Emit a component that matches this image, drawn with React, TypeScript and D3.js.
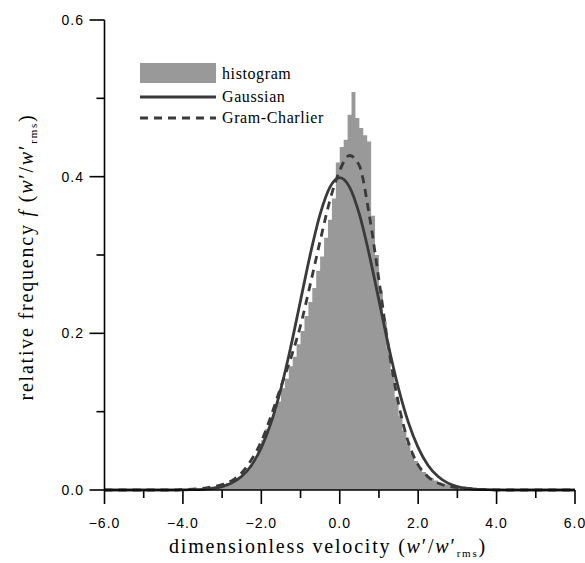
import React from "react";
import * as d3 from "d3";

// histogram: left bin edges (width 0.1) and relative frequency
const histEdges: number[] = d3.range(-4.5, 4.5001, 0.1).map((v) => Math.round(v * 10) / 10);
const histValues: number[] = [
  0.000, 0.001, 0.000, 0.001, 0.001, 0.001, 0.001, 0.002, 0.002, 0.002,
  0.003, 0.003, 0.004, 0.005, 0.006, 0.008, 0.009, 0.011, 0.014, 0.017,
  0.021, 0.026, 0.032, 0.040, 0.052, 0.064, 0.078, 0.092, 0.102, 0.113,
  0.130, 0.142, 0.158, 0.170, 0.186, 0.203, 0.222, 0.240, 0.258, 0.280,
  0.298, 0.322, 0.345, 0.372, 0.418, 0.438, 0.447, 0.479, 0.508, 0.475,
  0.462, 0.453, 0.445, 0.350, 0.300, 0.255, 0.215, 0.180, 0.150, 0.118,
  0.095, 0.076, 0.060, 0.047, 0.037, 0.029, 0.023, 0.018, 0.015, 0.012,
  0.010, 0.008, 0.007, 0.006, 0.005, 0.004, 0.004, 0.003, 0.003, 0.002,
  0.002, 0.001, 0.001, 0.001, 0.001, 0.000, 0.000, 0.000, 0.000, 0.000,
];

// curves sampled every 0.25 from -6 to 6
const curveX: number[] = d3.range(-6, 6.0001, 0.25);
const gaussianValues: number[] = [
  0, 0, 0, 0, 0, 0, 0, 0, 0.0001, 0.0004, 0.0009, 0.002, 0.0044, 0.0091, 0.0175, 0.0317,
  0.054, 0.0863, 0.1295, 0.1826, 0.242, 0.3011, 0.3521, 0.3867, 0.3989,
  0.3867, 0.3521, 0.3011, 0.242, 0.1826, 0.1295, 0.0863, 0.054,
  0.0317, 0.0175, 0.0091, 0.0044, 0.002, 0.0009, 0.0004, 0.0001, 0, 0, 0, 0, 0, 0, 0, 0,
];
const gramCharlierValues: number[] = [
  0, 0, 0, 0, 0, 0, 0, 0, 0.0005, 0.001, 0.002, 0.004, 0.007, 0.012, 0.022, 0.039,
  0.062, 0.095, 0.132, 0.168, 0.21, 0.263, 0.318, 0.37, 0.408,
  0.427, 0.414, 0.352, 0.268, 0.18, 0.11, 0.061, 0.032,
  0.017, 0.009, 0.005, 0.003, 0.002, 0.001, 0.0005, 0, 0, 0, 0, 0, 0, 0, 0, 0,
];

const xTicksMajor: number[] = [-6, -4, -2, 0, 2, 4, 6];
const xTicksMinor: number[] = [-5, -3, -1, 1, 3, 5];
const yTicksMajor: number[] = [0, 0.2, 0.4, 0.6];
const yTicksMinor: number[] = [0.1, 0.3, 0.5];

const legendLabels: string[] = ["histogram", "Gaussian", "Gram-Charlier"];

const W = 585;
const H = 563;
const x0 = 104.5;
const x1 = 575;
const y0 = 490;
const y1 = 20;

const HIST_FILL = "#999999";
const LINE = "#3a3a3a";
const LW = 2.8;
const DASH = "8,6";
const serif = "'Liberation Serif', 'Times New Roman', serif";
const sans = "'Liberation Sans', Arial, sans-serif";

export default function App() {
  const x = d3.scaleLinear().domain([-6, 6]).range([x0, x1]);
  const y = d3.scaleLinear().domain([0, 0.6]).range([y0, y1]);

  const histData = histEdges.map((e, i) => ({ e, v: histValues[i] ?? 0 }));
  const area = d3
    .area<{ e: number; v: number }>()
    .x((d) => x(d.e))
    .y0(y(0))
    .y1((d) => y(d.v))
    .curve(d3.curveStepAfter);

  const line = d3
    .line<number>()
    .x((_, i) => x(curveX[i]))
    .y((d) => y(d))
    .curve(d3.curveMonotoneX);

  const fmt = d3.format(".1f");
  const legX = 140;
  const legW = 76;

  return (
    <svg
      width={W}
      height={H}
      style={{ position: "absolute", left: 0, top: 0, background: "#fff" }}
    >
      <rect x={0} y={0} width={W} height={H} fill="#fff" />
      <path d={area(histData) ?? ""} fill={HIST_FILL} />
      <path d={line(gaussianValues) ?? ""} fill="none" stroke={LINE} strokeWidth={LW} />
      <path
        d={line(gramCharlierValues) ?? ""}
        fill="none"
        stroke={LINE}
        strokeWidth={LW}
        strokeDasharray={DASH}
      />

      {/* axes */}
      <line x1={x0} x2={x1} y1={y0} y2={y0} stroke="#000" strokeWidth={1.6} />
      <line x1={x0} x2={x0} y1={y0} y2={y1} stroke="#000" strokeWidth={1.6} />
      {xTicksMajor.map((t) => (
        <g key={"xm" + t}>
          <line x1={x(t)} x2={x(t)} y1={y0} y2={y0 + 14} stroke="#000" strokeWidth={1.6} />
          <text
            x={x(t)}
            y={528}
            textAnchor="middle"
            fontFamily={sans}
            fontSize={14}
            letterSpacing={1}
            fill="#000"
          >
            {fmt(t)}
          </text>
        </g>
      ))}
      {xTicksMinor.map((t) => (
        <line key={"xn" + t} x1={x(t)} x2={x(t)} y1={y0} y2={y0 + 8} stroke="#000" strokeWidth={1.6} />
      ))}
      {yTicksMajor.map((t) => (
        <g key={"ym" + t}>
          <line x1={x0 - 15} x2={x0} y1={y(t)} y2={y(t)} stroke="#000" strokeWidth={1.6} />
          <text
            x={84}
            y={y(t) + 5}
            textAnchor="end"
            fontFamily={sans}
            fontSize={14}
            letterSpacing={1}
            fill="#000"
          >
            {fmt(t)}
          </text>
        </g>
      ))}
      {yTicksMinor.map((t) => (
        <line key={"yn" + t} x1={x0 - 8} x2={x0} y1={y(t)} y2={y(t)} stroke="#000" strokeWidth={1.6} />
      ))}

      {/* axis titles */}
      <text
        x={328}
        y={553}
        textAnchor="middle"
        fontFamily={serif}
        fontSize={20}
        letterSpacing={1.8}
        fill="#000"
      >
        dimensionless velocity (<tspan fontStyle="italic">w</tspan>′/<tspan fontStyle="italic">w</tspan>′
        <tspan fontSize={11} dy={4}>rms</tspan>
        <tspan dy={-4}>)</tspan>
      </text>
      <text
        transform={`translate(33,257) rotate(-90)`}
        textAnchor="middle"
        fontFamily={serif}
        fontSize={20}
        letterSpacing={1.8}
        fill="#000"
      >
        relative frequency <tspan fontStyle="italic">f</tspan> (<tspan fontStyle="italic">w</tspan>′/<tspan fontStyle="italic">w</tspan>′
        <tspan fontSize={11} dy={4}>rms</tspan>
        <tspan dy={-4}>)</tspan>
      </text>

      {/* legend */}
      <rect x={legX} y={63} width={legW} height={20} fill={HIST_FILL} />
      <text x={222} y={79} fontFamily={serif} fontSize={16} letterSpacing={0.6} fill="#000">
        {legendLabels[0]}
      </text>
      <line x1={legX} x2={legX + legW} y1={97} y2={97} stroke={LINE} strokeWidth={LW} />
      <text x={222} y={102} fontFamily={serif} fontSize={16} letterSpacing={0.6} fill="#000">
        {legendLabels[1]}
      </text>
      <line
        x1={legX}
        x2={legX + legW}
        y1={118}
        y2={118}
        stroke={LINE}
        strokeWidth={LW}
        strokeDasharray={DASH}
      />
      <text x={222} y={123} fontFamily={serif} fontSize={16} letterSpacing={0.6} fill="#000">
        {legendLabels[2]}
      </text>
    </svg>
  );
}
